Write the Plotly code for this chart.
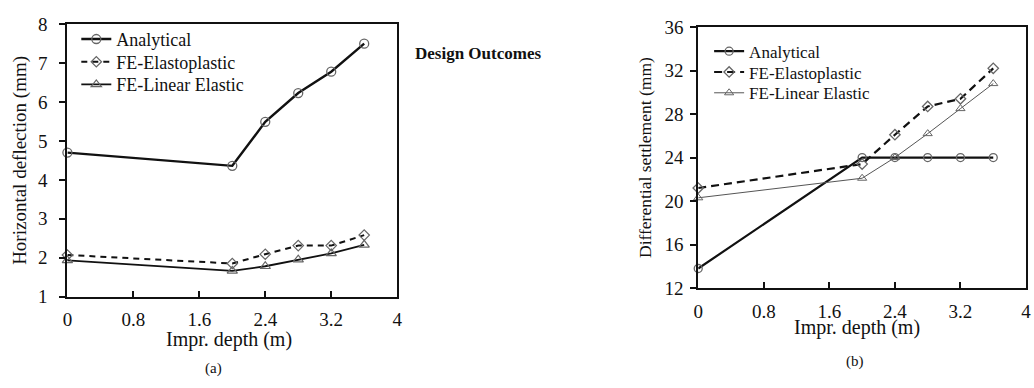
import plotly.graph_objects as go

depth = [0, 2.0, 2.4, 2.8, 3.2, 3.6]

# (a) Horizontal deflection (mm)
defl_analytical = [4.70, 4.36, 5.49, 6.23, 6.78, 7.50]
defl_elastoplastic = [2.07, 1.85, 2.09, 2.31, 2.31, 2.58]
defl_linear = [1.93, 1.66, 1.78, 1.95, 2.11, 2.33]

# (b) Differential settlement (mm)
sett_analytical = [13.8, 24.0, 24.0, 24.0, 24.0, 24.0]
sett_elastoplastic = [21.2, 23.4, 26.1, 28.7, 29.4, 32.2]
sett_linear = [20.3, 22.1, 24.0, 26.2, 28.5, 30.8]

x_ticks = [0, 0.8, 1.6, 2.4, 3.2, 4]
x_ticktext = ["0", "0.8", "1.6", "2.4", "3.2", "4"]
ya_ticks = [1, 2, 3, 4, 5, 6, 7, 8]
yb_ticks = [12, 16, 20, 24, 28, 32, 36]

names = ["Analytical", "FE-Elastoplastic", "FE-Linear Elastic"]

SERIF = "Liberation Serif, Times New Roman, serif"
MK = "#666666"
W, H = 1034, 388


def px(v):
    return min(1.0, max(0.0, v / W))


def py(v):
    return min(1.0, max(0.0, 1 - v / H))


fig = go.Figure()

# left panel
fig.add_trace(go.Scatter(x=depth, y=defl_analytical, name=names[0], mode="lines+markers",
                         line=dict(color="#111111", width=2.4),
                         marker=dict(symbol="circle-open", size=9, color=MK, line=dict(width=1.3)),
                         cliponaxis=False, xaxis="x", yaxis="y", legend="legend"))
fig.add_trace(go.Scatter(x=depth, y=defl_elastoplastic, name=names[1], mode="lines+markers",
                         line=dict(color="#111111", width=2, dash="6px,5px"),
                         marker=dict(symbol="diamond-open", size=8, color=MK, line=dict(width=1.2)),
                         cliponaxis=False, xaxis="x", yaxis="y", legend="legend2"))
fig.add_trace(go.Scatter(x=depth, y=defl_linear, name=names[2], mode="lines+markers",
                         line=dict(color="#111111", width=1.8),
                         marker=dict(symbol="triangle-up-open", size=9, color=MK, line=dict(width=1.2)),
                         cliponaxis=False, xaxis="x", yaxis="y", legend="legend3"))

# right panel
fig.add_trace(go.Scatter(x=depth, y=sett_analytical, name=names[0], mode="lines+markers",
                         line=dict(color="#111111", width=2.2),
                         marker=dict(symbol="circle-open", size=8, color=MK, line=dict(width=1.3)),
                         cliponaxis=False, xaxis="x2", yaxis="y2", legend="legend4"))
fig.add_trace(go.Scatter(x=depth, y=sett_elastoplastic, name=names[1], mode="lines+markers",
                         line=dict(color="#111111", width=2.2, dash="8px,5px"),
                         marker=dict(symbol="diamond-open", size=8, color=MK, line=dict(width=1.3)),
                         cliponaxis=False, xaxis="x2", yaxis="y2", legend="legend5"))
fig.add_trace(go.Scatter(x=depth, y=sett_linear, name=names[2], mode="lines+markers",
                         line=dict(color="#555555", width=1),
                         marker=dict(symbol="triangle-up-open", size=8, color=MK, line=dict(width=1)),
                         cliponaxis=False, xaxis="x2", yaxis="y2", legend="legend6"))

axis_common = dict(showline=True, mirror=True, linecolor="#111111", linewidth=2,
                   showgrid=False, zeroline=False, ticklen=6,
                   tickwidth=2, tickcolor="#111111")


def leg(xp, yp, size):
    return dict(x=px(xp), y=py(yp), xanchor="left", yanchor="middle",
                font=dict(size=size, family=SERIF, color="#111111"),
                bgcolor="rgba(0,0,0,0)", itemwidth=30, tracegroupgap=0)


def note(text, xp, yp, size, **kw):
    return dict(text=text, x=px(xp), y=py(yp), xref="paper", yref="paper",
                xanchor="center", yanchor="middle", showarrow=False,
                font=dict(size=size, family=SERIF, color="#111111"), **kw)


fig.update_layout(
    width=W, height=H,
    margin=dict(l=0, r=0, t=0, b=0),
    paper_bgcolor="white", plot_bgcolor="white",
    font=dict(family=SERIF, color="#111111", size=18),
    xaxis=dict(**axis_common, ticks="inside", domain=[px(63), px(396)], range=[0, 4],
               tickvals=x_ticks, ticktext=x_ticktext, tickfont=dict(size=19),
               ticklabelstandoff=5, anchor="y"),
    yaxis=dict(**axis_common, ticks="outside", domain=[py(303), py(15)], range=[1, 8],
               tickvals=ya_ticks, tickfont=dict(size=19), ticklabelstandoff=8,
               title=dict(text="Horizontal deflection (mm)", font=dict(size=19), standoff=6),
               anchor="x"),
    xaxis2=dict(**axis_common, ticks="inside", domain=[px(700), px(1031)], range=[0, 4],
                tickvals=x_ticks, ticktext=x_ticktext, tickfont=dict(size=19),
                ticklabelstandoff=5, anchor="y2"),
    yaxis2=dict(**axis_common, ticks="outside", domain=[py(294), py(18)], range=[12, 36],
                tickvals=yb_ticks, tickfont=dict(size=19), ticklabelstandoff=3,
                title=dict(text="Differential settlement (mm)", font=dict(size=17.5), standoff=8),
                anchor="x2"),
    legend=leg(72, 31, 18),
    legend2=leg(72, 55, 18),
    legend3=leg(72, 79, 18),
    legend4=leg(711, 44, 17),
    legend5=leg(711, 66, 17),
    legend6=leg(711, 88, 17),
    showlegend=True,
    annotations=[
        note("<b>Design Outcomes</b>", 478, 46, 17),
        note("Impr. depth (m)", 226, 348, 20),
        note("Impr. depth (m)", 860, 336, 20),
        note("(a)", 211, 379, 15),
        note("(b)", 858, 372, 15),
    ],
)

fig.write_html("out.html")
